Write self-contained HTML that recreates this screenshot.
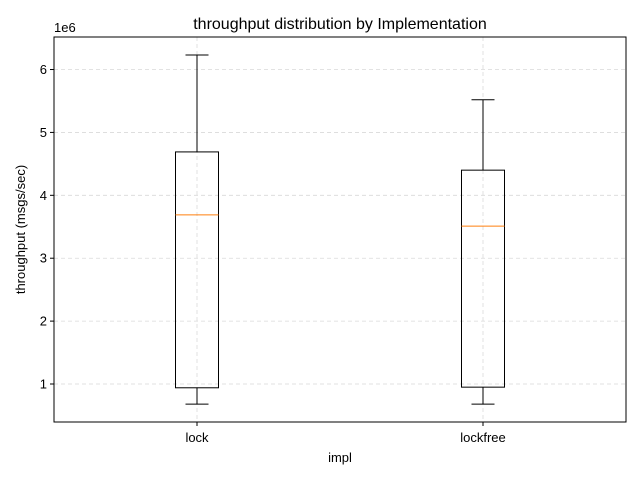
<!DOCTYPE html>
<html><head><meta charset="utf-8"><style>body{margin:0;background:#fff}svg text{font-family:"Liberation Sans","DejaVu Sans",sans-serif}</style></head>
<body>
<svg id="chart" width="640" height="480"></svg>
<script>
const categories = ["lock", "lockfree"];
const whiskerLow = [0.68, 0.68];
const q1 = [0.94, 0.95];
const median = [3.69, 3.51];
const q3 = [4.69, 4.40];
const whiskerHigh = [6.23, 5.52];
const yTicks = [1, 2, 3, 4, 5, 6];

const NS = "http://www.w3.org/2000/svg";
const svg = document.getElementById("chart");
const L = 54, R = 626, T = 37, B = 422;
const yMin = 0.396, yMax = 6.517;
const y = v => B - (v - yMin) / (yMax - yMin) * (B - T);
const band = (R - L) / categories.length;
const x = i => L + band * (i + 0.5);
function el(tag, attrs, name, text) {
  const e = document.createElementNS(NS, tag);
  for (const k in attrs) e.setAttribute(k, attrs[k]);
  
  
  if (text !== undefined) e.textContent = text;
  svg.appendChild(e);
  return e;
}
// grid
yTicks.forEach(t => {
  el('line', {x1: L, x2: R, y1: y(t), y2: y(t), stroke: '#d9d9d9', 'stroke-dasharray': '4,3', 'stroke-width': 0.8}, 'y-grid-line');
  el('line', {x1: L - 4, x2: L, y1: y(t), y2: y(t), stroke: '#000'}, 'y-tick');
  el('text', {x: L - 7, y: y(t) + 4.5, 'text-anchor': 'end', 'font-size': 13}, 'y-tick-label', t);
});
categories.forEach((c, i) => {
  el('line', {x1: x(i), x2: x(i), y1: T, y2: B, stroke: '#d9d9d9', 'stroke-dasharray': '4,3', 'stroke-width': 0.8}, 'x-grid-line');
  el('line', {x1: x(i), x2: x(i), y1: B, y2: B + 4, stroke: '#000'}, 'x-tick');
  el('text', {x: x(i), y: B + 20, 'text-anchor': 'middle', 'font-size': 13}, 'x-tick-label', c);
});
const bw = 21.5, cw = 11.5;
categories.forEach((c, i) => {
  const cx = x(i);
  el('line', {x1: cx, x2: cx, y1: y(q3[i]), y2: y(whiskerHigh[i]), stroke: '#000'}, 'upper-whisker');
  el('line', {x1: cx, x2: cx, y1: y(q1[i]), y2: y(whiskerLow[i]), stroke: '#000'}, 'lower-whisker');
  el('line', {x1: cx - cw, x2: cx + cw, y1: y(whiskerHigh[i]), y2: y(whiskerHigh[i]), stroke: '#000'}, 'upper-cap');
  el('line', {x1: cx - cw, x2: cx + cw, y1: y(whiskerLow[i]), y2: y(whiskerLow[i]), stroke: '#000'}, 'lower-cap');
  el('rect', {x: cx - bw, y: y(q3[i]), width: 2 * bw, height: y(q1[i]) - y(q3[i]), fill: 'none', stroke: '#000'}, 'box-' + c);
  el('line', {x1: cx - bw, x2: cx + bw, y1: y(median[i]), y2: y(median[i]), stroke: '#ff7f0e'}, 'median-' + c);
});
el('rect', {x: L, y: T, width: R - L, height: B - T, fill: 'none', stroke: '#000'}, 'axes-frame');
el('text', {x: L, y: 32, 'font-size': 13}, 'y-offset-label', '1e6');
el('text', {x: (L + R) / 2, y: 29, 'text-anchor': 'middle', 'font-size': 16}, 'chart-title', 'throughput distribution by Implementation');
el('text', {x: (L + R) / 2, y: 462, 'text-anchor': 'middle', 'font-size': 13}, 'x-axis-title', 'impl');
el('text', {x: 25, y: (T + B) / 2, 'text-anchor': 'middle', 'font-size': 13, transform: `rotate(-90 25 ${(T + B) / 2})`}, 'y-axis-title', 'throughput (msgs/sec)');
</script>
</body></html>
